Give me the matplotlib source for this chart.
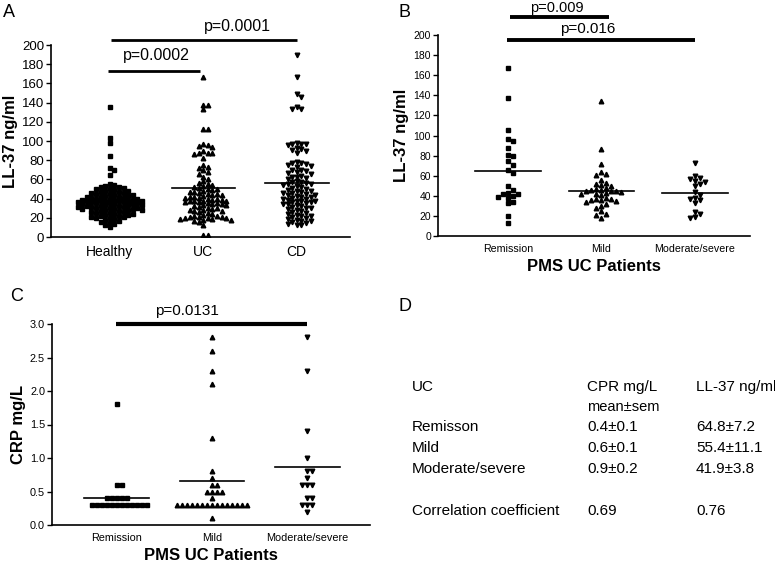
import matplotlib
matplotlib.use("Agg")
import matplotlib.pyplot as plt
import numpy as np

plt.rcParams['font.family'] = ['Liberation Sans', 'DejaVu Sans']

# Panel A: LL-37 (ng/ml) per group
grupos_a = ["Healthy", "UC", "CD"]
healthy = [135, 103, 98, 84, 72, 70, 65, 55, 54, 53, 52, 52, 51, 50, 50, 49, 48, 48, 47, 47,
           46, 46, 45, 45, 44, 44, 43, 43, 42, 42, 42, 41, 41, 40, 40, 40, 39, 39, 39, 38,
           38, 38, 37, 37, 37, 36, 36, 36, 35, 35, 35, 34, 34, 34, 33, 33, 33, 32, 32, 32,
           31, 31, 31, 30, 30, 30, 29, 29, 29, 28, 28, 28, 27, 27, 26, 26, 25, 25, 24, 24,
           23, 23, 22, 22, 21, 21, 20, 20, 19, 18, 17, 16, 15, 14, 12, 10]
uc = [167, 138, 137, 133, 113, 113, 97, 96, 95, 94, 90, 88, 87, 87, 86, 82, 75, 73, 72, 70,
      68, 66, 63, 60, 58, 56, 55, 54, 53, 52, 51, 50, 50, 49, 48, 47, 47, 46, 45, 45,
      44, 44, 43, 42, 42, 41, 41, 40, 40, 39, 39, 38, 38, 37, 37, 36, 36, 35, 35, 34,
      34, 33, 33, 32, 31, 30, 30, 29, 28, 28, 27, 27, 26, 25, 24, 23, 22, 22, 21, 21,
      21, 20, 20, 20, 19, 19, 18, 18, 17, 16, 12, 2, 2]
cd = [190, 167, 149, 146, 135, 133, 133, 98, 97, 97, 97, 96, 93, 92, 91, 90, 88, 78, 77, 77,
      76, 75, 74, 73, 70, 70, 69, 68, 67, 66, 64, 63, 62, 61, 60, 58, 57, 57, 56, 55,
      55, 54, 53, 52, 51, 50, 49, 48, 48, 47, 46, 46, 45, 44, 44, 43, 42, 42, 41, 40,
      40, 39, 38, 38, 37, 36, 36, 35, 34, 34, 33, 32, 31, 30, 30, 29, 28, 27, 26, 25,
      24, 23, 22, 22, 21, 20, 19, 18, 17, 17, 16, 15, 14, 13, 12]
lineas_a = [37.8, 50.7, 56.6]

# Panel B: LL-37 por actividad de la UC
grupos_b = ["Remission", "Mild", "Moderate/severe"]
remision_ll = [167, 137, 105, 97, 95, 88, 81, 80, 75, 71, 66, 63, 50, 46, 43, 42, 42, 40,
               39, 38, 34, 33, 20, 13]
leve_ll = [134, 87, 72, 64, 62, 61, 56, 53, 52, 51, 50, 48, 47, 46, 46, 45, 45, 45, 44, 43,
           42, 42, 41, 38, 37, 37, 36, 36, 35, 34, 32, 30, 28, 25, 22, 21, 18]
moderada_ll = [73, 60, 58, 57, 55, 54, 52, 50, 44, 41, 38, 37, 36, 33, 24, 22, 19, 18]
lineas_b = [65.0, 45.0, 42.5]

# Panel C: CRP (mg/L)
remision_crp = [1.8, 0.6, 0.6, 0.4, 0.4, 0.4, 0.4, 0.4, 0.3, 0.3, 0.3, 0.3, 0.3, 0.3, 0.3,
                0.3, 0.3, 0.3, 0.3, 0.3]
leve_crp = [2.8, 2.6, 2.3, 2.1, 1.3, 0.8, 0.7, 0.6, 0.6, 0.5, 0.5, 0.5, 0.5, 0.4, 0.3, 0.3,
            0.3, 0.3, 0.3, 0.3, 0.3, 0.3, 0.3, 0.3, 0.3, 0.3, 0.3, 0.3, 0.3, 0.1]
moderada_crp = [2.8, 2.3, 1.4, 1.0, 0.8, 0.8, 0.7, 0.6, 0.6, 0.6, 0.4, 0.4, 0.3, 0.3, 0.3, 0.2]
lineas_c = [0.41, 0.65, 0.87]

# Panel D: tabla
tabla_cab = ["UC", "CPR mg/L", "LL-37 ng/ml"]
tabla_filas = ["Remisson", "Mild", "Moderate/severe"]
tabla_crp = ["0.4\u00b10.1", "0.6\u00b10.1", "0.9\u00b10.2"]
tabla_ll = ["64.8\u00b17.2", "55.4\u00b111.1", "41.9\u00b13.8"]
correlacion = ["0.69", "0.76"]

W, H = 775.0, 563.0
fig = plt.figure(figsize=(7.75, 5.63), dpi=100)


def ejes(l, t, r, b):
    # crea unos ejes a partir de coordenadas en pixeles
    return fig.add_axes([l / W, 1 - b / H, (r - l) / W, (b - t) / H])


def enjambre(vals, px_y, px_x, d):
    # reparte horizontalmente los puntos para que no se solapen (tipo Prism)
    puestos = []
    offs = []
    for v in vals:
        y = v * px_y
        k = 0
        while True:
            paso = (k + 1) // 2 * (1 if k % 2 == 1 else -1)
            c = paso * d
            if all((c - px) ** 2 + (y - py) ** 2 >= (0.95 * d) ** 2 for px, py in puestos):
                break
            k += 1
        puestos.append((c, y))
        offs.append(c / px_x)
    return np.array(offs)


def estilo(ax, fs):
    for s in ["top", "right"]:
        ax.spines[s].set_visible(False)
    ax.spines["left"].set_linewidth(1.2)
    ax.spines["bottom"].set_linewidth(1.2)
    ax.tick_params(axis="y", length=3.5, width=1.0, labelsize=fs, pad=1.5)
    ax.tick_params(axis="x", length=0, pad=6)


def columnas(ax, datos, marcas, px_y, px_x, d, ms):
    for i, (v, m) in enumerate(zip(datos, marcas)):
        dx = enjambre(v, px_y, px_x, d)
        ax.plot(i + dx, v, linestyle="none", marker=m, color="k", ms=ms, mec="k")


def barra(ax, x0, x1, y, lw, texto, xt, yt, fs):
    ax.plot([x0, x1], [y, y], color="k", lw=lw, clip_on=False, solid_capstyle="butt")
    ax.text(xt, yt, texto, ha="center", va="baseline", fontsize=fs, clip_on=False)


marcas = ["s", "^", "v"]

# ----- Panel A -----
axA = ejes(51, 45, 350, 237)
columnas(axA, [healthy, uc, cd], marcas, 0.96, 93.5, 4.6, 3.3)
for i, m in enumerate(lineas_a):
    axA.plot([i - 0.34, i + 0.34], [m, m], color="k", lw=1.2)
axA.set_xlim(-0.63, 2.57)
axA.set_ylim(0, 200)
axA.set_yticks(np.arange(0, 201, 20))
axA.set_xticks(range(3))
axA.set_xticklabels(grupos_a, fontsize=10)
estilo(axA, 9.5)
axA.set_ylabel("LL-37 ng/ml", fontsize=12, fontweight="bold", labelpad=3)
barra(axA, -0.02, 0.96, 173, 2.0, "p=0.0002", 0.5, 184, 11.5)
barra(axA, 0.01, 2.0, 205, 2.0, "p=0.0001", 1.37, 215, 11.5)
fig.text(3 / W, 1 - 4 / H, "A", fontsize=13, ha="left", va="top")

# ----- Panel B -----
axB = ejes(438, 35, 750, 236)
columnas(axB, [remision_ll, leve_ll, moderada_ll], marcas, 1.005, 93.5, 5.0, 3.3)
for i, m in enumerate(lineas_b):
    axB.plot([i - 0.35, i + 0.35], [m, m], color="k", lw=1.2)
axB.set_xlim(-0.75, 2.59)
axB.set_ylim(0, 200)
axB.set_yticks(np.arange(0, 201, 20))
axB.set_xticks(range(3))
axB.set_xticklabels(grupos_b, fontsize=7.7)
estilo(axB, 7.5)
axB.set_ylabel("LL-37 ng/ml", fontsize=12, fontweight="bold", labelpad=3)
axB.set_xlabel("PMS UC Patients", fontsize=12, fontweight="bold", labelpad=3)
barra(axB, 0.02, 1.08, 218, 2.8, "p=0.009", 0.52, 223, 10.5)
barra(axB, -0.01, 2.0, 195, 2.8, "p=0.016", 0.85, 201.5, 11)
fig.text(398 / W, 1 - 4 / H, "B", fontsize=13, ha="left", va="top")

# ----- Panel C -----
axC = ejes(52, 324, 370, 525)
columnas(axC, [remision_crp, leve_crp, moderada_crp], marcas, 67.0, 95.0, 5.0, 3.3)
for i, m in enumerate(lineas_c):
    axC.plot([i - 0.34, i + 0.34], [m, m], color="k", lw=1.2)
axC.set_xlim(-0.68, 2.66)
axC.set_ylim(0, 3.0)
axC.set_yticks(np.arange(0, 3.01, 0.5))
axC.set_yticklabels(["%.1f" % t for t in np.arange(0, 3.01, 0.5)])
axC.set_xticks(range(3))
axC.set_xticklabels(grupos_b, fontsize=7.8)
estilo(axC, 7.8)
axC.set_ylabel("CRP mg/L", fontsize=12, fontweight="bold", labelpad=3)
axC.set_xlabel("PMS UC Patients", fontsize=12, fontweight="bold", labelpad=3)
barra(axC, -0.01, 2.0, 3.0, 3.0, "p=0.0131", 0.74, 3.13, 11)
fig.text(10 / W, 1 - 288 / H, "C", fontsize=13, ha="left", va="top")

# ----- Panel D: tabla de texto -----
fig.text(398 / W, 1 - 298 / H, "D", fontsize=13, ha="left", va="top")
col_x = [412, 587, 696]
fila_y = [387, 427, 448, 469]
for x, t in zip(col_x, tabla_cab):
    fig.text(x / W, 1 - fila_y[0] / H, t, fontsize=11, ha="left", va="center")
fig.text(col_x[1] / W, 1 - 407 / H, "mean\u00b1sem", fontsize=10.5, ha="left", va="center")
for j in range(3):
    y = 1 - fila_y[j + 1] / H
    fig.text(col_x[0] / W, y, tabla_filas[j], fontsize=11, ha="left", va="center")
    fig.text(col_x[1] / W, y, tabla_crp[j], fontsize=11, ha="left", va="center")
    fig.text(col_x[2] / W, y, tabla_ll[j], fontsize=11, ha="left", va="center")
fig.text(col_x[0] / W, 1 - 511 / H, "Correlation coefficient", fontsize=11, ha="left", va="center")
fig.text(col_x[1] / W, 1 - 511 / H, correlacion[0], fontsize=11, ha="left", va="center")
fig.text(col_x[2] / W, 1 - 511 / H, correlacion[1], fontsize=11, ha="left", va="center")

plt.savefig("out.png", dpi=100)
plt.close()
